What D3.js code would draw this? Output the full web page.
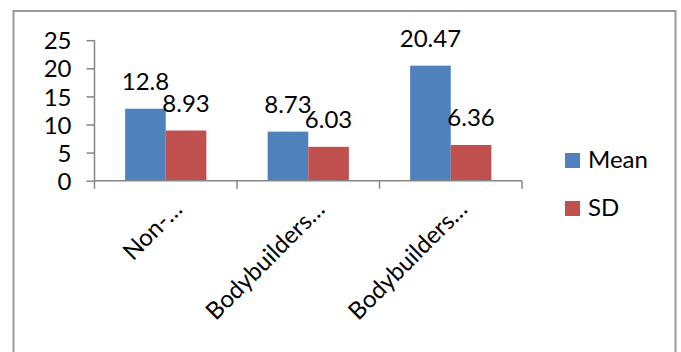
<!DOCTYPE html>
<html><head><meta charset="utf-8">
<script src="https://cdn.jsdelivr.net/npm/d3@7"></script>
<style>
html,body{margin:0;padding:0;background:#fff;}
svg{display:block;}
text{font-family:Lato,"Open Sans",sans-serif;fill:#000;}
</style></head>
<body>
<svg id="c" width="681" height="352"></svg>
<script>
const categories = ["Non-\u2026", "Bodybuilders\u2026", "Bodybuilders\u2026"];
const seriesNames = ["Mean", "SD"];
const meanValues = [12.8, 8.73, 20.47];
const sdValues = [8.93, 6.03, 6.36];
const yTicks = [0, 5, 10, 15, 20, 25];
const colors = ["#4F81BD", "#C0504D"];

const svg = d3.select("#c");
// outer border (chart area frame)
svg.append("rect").attr("x", 13.5).attr("y", 11).attr("width", 662).attr("height", 360)
  .attr("fill", "none").attr("stroke", "#9a9a9a").attr("stroke-width", 2);

const x0 = 94.5, x1 = 522, yTop = 40.2, yBot = 180.7;
const x = d3.scaleBand().domain(d3.range(categories.length)).range([x0, x1]).paddingInner(0.43).paddingOuter(0.215);
const xs = d3.scaleBand().domain(seriesNames).range([0, x.bandwidth()]);
const y = d3.scaleLinear().domain([0, 25]).range([yBot, yTop]);
const xb = d3.scaleBand().domain(d3.range(categories.length)).range([x0, x1]);

const data = categories.map((c, i) => ({i, vals: [meanValues[i], sdValues[i]]}));

const g = svg.append("g");
data.forEach(d => {
  d.vals.forEach((v, k) => {
    const bx = x(d.i) + xs(seriesNames[k]);
    g.append("rect").attr("x", bx).attr("y", y(v)).attr("width", xs.bandwidth())
      .attr("height", y(0) - y(v)).attr("fill", colors[k]);
    g.append("text").attr("x", bx + xs.bandwidth() / 2).attr("y", y(v) - 19)
      .attr("text-anchor", "middle").attr("font-size", 24).text(v);
  });
});

// y axis
const yAxis = d3.axisLeft(y).tickValues(yTicks).tickSize(8).tickPadding(15).tickFormat(d3.format("d"));
const ya = svg.append("g").attr("transform", `translate(${x0},0)`).call(yAxis);
ya.selectAll("path,line").attr("stroke", "#868686").attr("stroke-width", 1.5);
ya.select(".domain").attr("d", `M0,${yTop}V${yBot}`);
ya.selectAll("text").attr("font-size", 24).attr("font-family", "Lato").attr("dy", "0.36em");

// x axis
const xAxis = d3.axisBottom(xb).tickValues([]).tickSizeOuter(0);
const xa = svg.append("g").attr("transform", `translate(0,${yBot})`).call(xAxis);
xa.select(".domain").attr("stroke", "#868686").attr("stroke-width", 1.5).attr("d", `M${x0},0H${x1}`);
const bounds = [x0].concat(d3.range(categories.length).map(i => xb(i) + xb.bandwidth()));
xa.selectAll(".cat-tick").data(bounds).enter().append("line").attr("class", "cat-tick")
  .attr("x1", d => d).attr("x2", d => d).attr("y1", 0).attr("y2", 8)
  .attr("stroke", "#868686").attr("stroke-width", 1.5);
xa.selectAll(".cat-label").data(categories).enter().append("text").attr("class", "cat-label")
  .attr("text-anchor", "end").attr("font-size", 24)
  .attr("transform", (d, i) => `translate(${xb(i) + xb.bandwidth() / 2 + 18},${30}) rotate(-45)`)
  .text(d => d);

// legend
const lg = svg.append("g");
seriesNames.forEach((s, k) => {
  lg.append("rect").attr("x", 565).attr("y", 153 + k * 48).attr("width", 15).attr("height", 15).attr("fill", colors[k]);
  lg.append("text").attr("x", 588).attr("y", 168 + k * 48).attr("font-size", 24).text(s);
});
</script>
</body></html>
